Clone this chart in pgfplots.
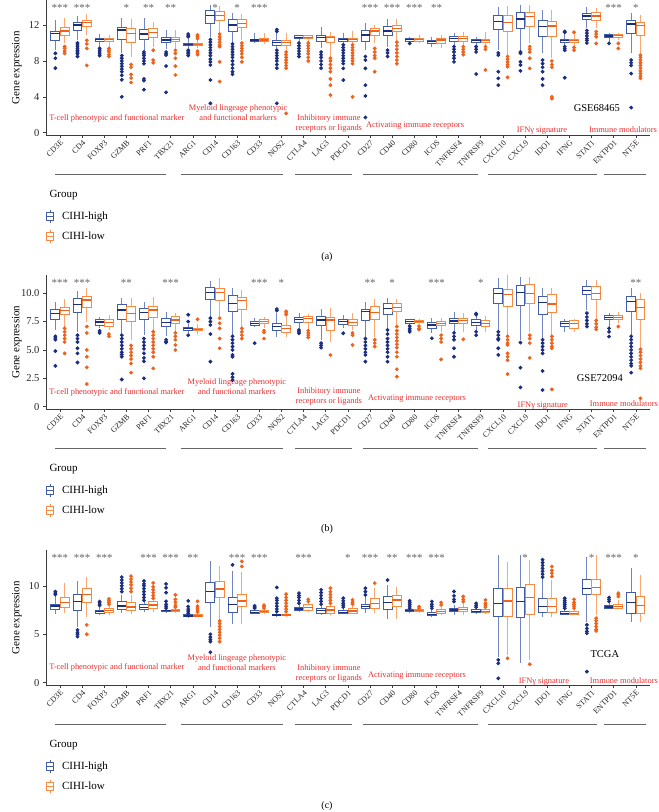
\documentclass[border=0pt]{standalone}
\usepackage{fontspec}
\setmainfont{Liberation Serif}
\usepackage{pgfplots}
\pgfplotsset{compat=1.18}
\usepgfplotslibrary{statistics}

\definecolor{hiB}{RGB}{66,92,172}
\definecolor{hiD}{RGB}{28,46,128}
\definecolor{loB}{RGB}{248,138,66}
\definecolor{loD}{RGB}{240,98,28}
\definecolor{grpc}{RGB}{232,45,45}
\definecolor{axc}{RGB}{60,60,60}

\pgfplotsset{
  hi/.style={draw=hiB, line width=0.8pt, solid, mark=*, mark size=1.5pt,
    mark options={draw=hiD, fill=hiD},
    boxplot/every box/.style={draw=hiB, fill=white, line width=0.9pt},
    boxplot/every whisker/.style={draw=hiB!75, line width=0.8pt},
    boxplot/every median/.style={draw=hiD, line width=1.3pt}},
  lo/.style={draw=loB, line width=0.8pt, solid, mark=*, mark size=1.5pt,
    mark options={draw=loD, fill=loD},
    boxplot/every box/.style={draw=loB, fill=white, line width=0.9pt},
    boxplot/every whisker/.style={draw=loB!75, line width=0.8pt},
    boxplot/every median/.style={draw=loD, line width=1.3pt}},
  panel/.style={scale only axis, width=604pt, anchor=south west, clip=false,
    xmin=0.368, xmax=27.64,
    axis x line=bottom, axis y line=left,
    axis line style={-, draw=axc, line width=0.8pt},
    tick align=outside, major tick length=3pt,
    tick style={axc, line width=0.6pt},
    xtick={1,...,27},
    xticklabels={CD3E,CD4,FOXP3,GZMB,PRF1,TBX21,ARG1,CD14,CD163,CD33,NOS2,CTLA4,LAG3,PDCD1,CD27,CD40,CD80,ICOS,TNFRSF4,TNFRSF9,CXCL10,CXCL9,IDO1,IFNG,STAT1,ENTPD1,NT5E},
    xticklabel style={rotate=45, anchor=north east, inner sep=1pt, font=\fontsize{8}{9}\selectfont, text=black!85},
    yticklabel style={font=\fontsize{10.5}{12}\selectfont, text=black!85},
    ylabel={Gene expression},
    ylabel style={at={(axis description cs:-0.048,0.5)}, anchor=center, font=\fontsize{11}{13}\selectfont},
    boxplot/draw direction=y,
    boxplot/box extend=0.4, boxplot/whisker extend=0,
    legend style={at={(0,-0.552)}, anchor=north west, draw=none, fill=none,
      inner sep=0pt, row sep=6pt, column sep=7pt,
      font=\fontsize{11}{13}\selectfont, nodes={inner sep=1pt}},
    legend cell align=left},
}
\tikzset{
  star/.style={anchor=base, font=\fontsize{11}{12}\selectfont, text=black!60},
  grpt/.style={font=\fontsize{8.4}{10}\selectfont, text=grpc, align=center},
  grpl/.style={draw=black!60, line width=1pt},
}

\newcommand{\bh}[6]{\addplot[hi, boxplot prepared={draw position=#1-0.21, lower whisker=#2, lower quartile=#3, median=#4, upper quartile=#5, upper whisker=#6}]}
\newcommand{\bl}[6]{\addplot[lo, boxplot prepared={draw position=#1+0.21, lower whisker=#2, lower quartile=#3, median=#4, upper quartile=#5, upper whisker=#6}]}

\newcommand{\legendimgs}{%
  \addlegendimage{legend image code/.code={
    \draw[hiB,line width=0.9pt] (0pt,-6.5pt) -- (0pt,6.5pt);
    \draw[hiB,line width=0.9pt,fill=white] (-3.5pt,-4pt) rectangle (3.5pt,4pt);
    \draw[hiB,line width=0.9pt] (-3.5pt,0pt) -- (3.5pt,0pt);}}
  \addlegendentry{CIHI-high}
  \addlegendimage{legend image code/.code={
    \draw[loB,line width=0.9pt] (0pt,-6.5pt) -- (0pt,6.5pt);
    \draw[loB,line width=0.9pt,fill=white] (-3.5pt,-4pt) rectangle (3.5pt,4pt);
    \draw[loB,line width=0.9pt] (-3.5pt,0pt) -- (3.5pt,0pt);}}
  \addlegendentry{CIHI-low}}

\newcommand{\grouplines}{%
  \draw[grpl] (axis cs:0.77,\yg) -- (axis cs:5.79,\yg);
  \draw[grpl] (axis cs:6.46,\yg) -- (axis cs:11.07,\yg);
  \draw[grpl] (axis cs:11.6,\yg) -- (axis cs:14.18,\yg);
  \draw[grpl] (axis cs:14.68,\yg) -- (axis cs:19.87,\yg);
  \draw[grpl] (axis cs:20.32,\yg) -- (axis cs:25.24,\yg);
  \draw[grpl] (axis cs:25.56,\yg) -- (axis cs:27.46,\yg);
  \node[anchor=west, font=\fontsize{11}{13}\selectfont] at ([yshift=-60pt]axis description cs:0,0) {Group};}

\begin{document}
\begin{tikzpicture}
\useasboundingbox (0,0) rectangle (659pt,-812pt);

% ---------------- (a) GSE68465
\def\ys{13.5}\def\yg{-4.72}
\begin{axis}[panel, at={(46pt,-135pt)}, height=135pt, ymin=-0.26, ymax=14.8,
  ytick={0,4,8,12}, yticklabels={0,4,8,12}]
\legendimgs
\bh{1}{9.2}{10.33}{11.08}{11.26}{12.6} table[row sep=\\,y index=0]{8.85\\8.3\\7.2\\};
\bl{1}{9.96}{10.9}{11.34}{11.75}{12.75} table[row sep=\\,y index=0]{9.6\\9.4\\9.1\\8.85\\};
\bh{2}{10.33}{11.38}{12.0}{12.27}{13.0} table[row sep=\\,y index=0]{10.0\\9.8\\9.6\\9.4\\9.2\\9.0\\8.8\\8.5\\};
\bl{2}{10.9}{11.8}{12.27}{12.57}{13.2} table[row sep=\\,y index=0]{10.3\\9.9\\9.4\\7.5\\};
\bh{3}{9.6}{10.15}{10.4}{10.52}{10.97} table[row sep=\\,y index=0]{9.4\\9.2\\9.0\\8.8\\8.6\\};
\bl{3}{9.6}{10.15}{10.4}{10.52}{10.9} table[row sep=\\,y index=0]{9.4\\9.2\\9.0\\8.7\\8.5\\};
\bh{4}{8.85}{10.4}{11.45}{11.75}{12.75} table[row sep=\\,y index=0]{8.6\\8.3\\8.0\\7.7\\7.4\\7.1\\6.8\\6.4\\5.9\\4.0\\};
\bl{4}{8.48}{10.04}{11.08}{11.64}{12.64} table[row sep=\\,y index=0]{7.6\\7.3\\6.5\\6.1\\5.6\\};
\bh{5}{9.2}{10.4}{11.0}{11.52}{12.75} table[row sep=\\,y index=0]{9.0\\8.8\\8.6\\8.3\\8.0\\7.7\\6.0\\5.8\\4.8\\};
\bl{5}{9.6}{10.63}{11.19}{11.64}{12.38} table[row sep=\\,y index=0]{9.2\\8.1\\7.8\\};
\bh{6}{9.3}{10.04}{10.33}{10.6}{11.45} table[row sep=\\,y index=0]{9.0\\8.8\\8.66\\7.43\\4.5\\};
\bl{6}{9.4}{10.15}{10.4}{10.63}{11.5} table[row sep=\\,y index=0]{9.2\\8.85\\8.3\\7.43\\6.43\\};
\bh{7}{9.4}{9.7}{9.85}{9.95}{10.5} table[row sep=\\,y index=0]{11.0\\10.8\\10.7\\9.2\\9.0\\8.8\\8.6\\};
\bl{7}{9.4}{9.75}{9.85}{9.95}{10.4} table[row sep=\\,y index=0]{10.9\\10.7\\10.5\\9.1\\8.9\\8.7\\};
\bh{8}{10.7}{12.19}{13.1}{13.68}{14.24} table[row sep=\\,y index=0]{10.4\\10.1\\9.8\\9.5\\9.2\\8.9\\8.6\\8.2\\7.9\\7.55\\5.87\\3.27\\};
\bl{8}{11.26}{12.5}{13.1}{13.5}{14.1} table[row sep=\\,y index=0]{11.0\\10.7\\10.4\\10.1\\9.8\\9.6\\7.9\\5.7\\};
\bh{9}{10.15}{11.26}{12.0}{12.64}{13.3} table[row sep=\\,y index=0]{9.9\\9.6\\9.3\\9.0\\8.7\\8.4\\8.0\\7.6\\7.2\\6.8\\6.5\\};
\bl{9}{10.33}{11.75}{12.19}{12.64}{13.2} table[row sep=\\,y index=0]{10.0\\9.7\\9.4\\9.1\\8.8\\8.4\\7.9\\};
\bh{10}{9.96}{10.15}{10.33}{10.45}{11.08} coordinates {};
\bl{10}{9.9}{10.2}{10.35}{10.5}{11.1} coordinates {};
\bh{11}{9.4}{9.78}{10.07}{10.33}{11.1} table[row sep=\\,y index=0]{11.5\\11.3\\9.2\\8.9\\8.6\\8.3\\8.0\\7.6\\7.2\\3.27\\};
\bl{11}{9.2}{9.74}{10.04}{10.26}{11.15} table[row sep=\\,y index=0]{9.0\\8.7\\8.4\\8.1\\7.8\\7.5\\7.2\\2.16\\};
\bh{12}{10.15}{10.48}{10.63}{10.8}{10.9} table[row sep=\\,y index=0]{10.0\\9.7\\9.4\\9.1\\8.8\\8.5\\};
\bl{12}{10.2}{10.5}{10.65}{10.8}{10.95} table[row sep=\\,y index=0]{10.0\\9.7\\9.4\\9.1\\8.8\\8.4\\8.0\\};
\bh{13}{9.4}{10.15}{10.63}{10.9}{11.8} table[row sep=\\,y index=0]{9.0\\8.7\\8.4\\8.0\\7.6\\7.2\\};
\bl{13}{8.48}{10.04}{10.63}{10.78}{11.2} table[row sep=\\,y index=0]{8.3\\8.0\\7.6\\7.2\\6.8\\6.0\\5.3\\4.2\\};
\bh{14}{9.96}{10.15}{10.4}{10.52}{11.08} table[row sep=\\,y index=0]{9.8\\9.5\\9.2\\8.9\\8.6\\8.3\\8.0\\7.7\\7.17\\5.87\\};
\bl{14}{9.96}{10.15}{10.4}{10.52}{11.38} table[row sep=\\,y index=0]{9.8\\9.5\\9.2\\8.9\\8.6\\8.3\\8.0\\7.7\\4.0\\};
\bh{15}{9.2}{10.15}{10.9}{11.38}{12.27} table[row sep=\\,y index=0]{8.5\\8.1\\7.17\\5.3\\4.1\\1.7\\};
\bl{15}{9.96}{10.8}{11.34}{11.64}{12.0} table[row sep=\\,y index=0]{9.4\\9.0\\8.6\\8.3\\6.8\\};
\bh{16}{9.6}{10.8}{11.34}{11.8}{12.64} table[row sep=\\,y index=0]{9.2\\8.9\\8.5\\};
\bl{16}{10.33}{11.26}{11.64}{12.0}{12.64} table[row sep=\\,y index=0]{10.1\\9.7\\9.3\\8.9\\8.5\\8.1\\7.7\\};
\bh{17}{10.04}{10.22}{10.4}{10.52}{10.7} table[row sep=\\,y index=0]{9.96\\};
\bl{17}{10.04}{10.22}{10.4}{10.52}{10.9} coordinates {};
\bh{18}{9.6}{9.96}{10.15}{10.33}{10.7} coordinates {};
\bl{18}{9.4}{9.96}{10.33}{10.52}{10.9} coordinates {};
\bh{19}{9.78}{10.22}{10.52}{10.7}{11.15} table[row sep=\\,y index=0]{9.6\\9.3\\9.0\\8.6\\8.3\\7.9\\};
\bl{19}{9.78}{10.22}{10.52}{10.7}{11.26} table[row sep=\\,y index=0]{9.6\\9.3\\9.0\\8.7\\};
\bh{20}{9.78}{10.07}{10.26}{10.4}{10.7} table[row sep=\\,y index=0]{9.6\\9.3\\9.0\\6.54\\};
\bl{20}{9.78}{10.07}{10.26}{10.45}{11.26} table[row sep=\\,y index=0]{9.6\\9.3\\7.0\\};
\bh{21}{9.2}{11.52}{12.38}{13.12}{14.05} table[row sep=\\,y index=0]{8.9\\8.66\\6.8\\6.06\\5.3\\};
\bl{21}{8.66}{11.26}{12.27}{13.12}{14.13} table[row sep=\\,y index=0]{8.5\\8.2\\7.9\\7.6\\7.36\\6.17\\};
\bh{22}{9.2}{11.64}{12.68}{13.42}{14.24} table[row sep=\\,y index=0]{9.0\\8.85\\7.9\\7.55\\6.9\\};
\bl{22}{9.96}{11.8}{12.94}{13.38}{14.24} table[row sep=\\,y index=0]{9.6\\9.3\\9.0\\8.3\\7.17\\};
\bh{23}{8.85}{10.78}{11.82}{12.5}{13.68} table[row sep=\\,y index=0]{8.1\\7.7\\7.3\\6.8\\6.0\\5.3\\};
\bl{23}{8.3}{10.78}{11.9}{12.38}{13.68} table[row sep=\\,y index=0]{8.0\\7.6\\7.3\\4.0\\3.8\\};
\bh{24}{9.78}{10.04}{10.26}{10.4}{11.08} table[row sep=\\,y index=0]{11.3\\11.2\\9.6\\9.4\\9.2\\6.13\\};
\bl{24}{9.7}{10.04}{10.26}{10.4}{11.08} table[row sep=\\,y index=0]{11.2\\9.5\\9.2\\};
\bh{25}{11.64}{12.64}{13.0}{13.31}{14.05} table[row sep=\\,y index=0]{11.4\\11.1\\10.8\\10.5\\10.3\\10.0\\};
\bl{25}{11.64}{12.57}{13.0}{13.38}{13.87} table[row sep=\\,y index=0]{11.26\\11.0\\10.7\\9.96\\};
\bh{26}{10.15}{10.6}{10.78}{10.97}{11.08} table[row sep=\\,y index=0]{9.96\\};
\bl{26}{10.33}{10.6}{10.85}{11.0}{11.15} table[row sep=\\,y index=0]{9.96\\9.4\\};
\bh{27}{8.85}{11.08}{12.12}{12.57}{13.3} table[row sep=\\,y index=0]{8.1\\7.8\\7.5\\6.6\\2.8\\};
\bl{27}{8.85}{10.9}{11.93}{12.3}{13.12} table[row sep=\\,y index=0]{8.66\\8.4\\8.1\\7.8\\7.5\\7.2\\6.9\\6.6\\6.3\\6.06\\};
\node[star] at (axis cs:1,\ys) {***};
\node[star] at (axis cs:2,\ys) {***};
\node[star] at (axis cs:4,\ys) {*};
\node[star] at (axis cs:5,\ys) {**};
\node[star] at (axis cs:6,\ys) {**};
\node[star] at (axis cs:8,\ys) {*};
\node[star] at (axis cs:9,\ys) {*};
\node[star] at (axis cs:10,\ys) {***};
\node[star] at (axis cs:15,\ys) {***};
\node[star] at (axis cs:16,\ys) {***};
\node[star] at (axis cs:17,\ys) {***};
\node[star] at (axis cs:18,\ys) {**};
\node[star] at (axis cs:26,\ys) {***};
\node[star] at (axis cs:27,\ys) {*};
\node[grpt] at (axis cs:3.57,1.63) {T-cell phenotypic and functional marker};
\node[grpt] at (axis cs:9.04,2.2) {Myeloid lingeage phenotypic\\and functional markers};
\node[grpt] at (axis cs:13.14,1.08) {Inhibitory immune\\receptors or ligands};
\node[grpt] at (axis cs:17.03,0.75) {Activating immune receptors};
\node[grpt] at (axis cs:22.76,0.19) {IFNγ signature};
\node[grpt] at (axis cs:26.42,0.3) {Immune modulators};
\node[font=\fontsize{10.5}{12}\selectfont] at (axis cs:25.24,2.75) {GSE68465};
\grouplines
\end{axis}

% ---------------- (b) GSE72094
\def\ys{10.63}\def\yg{-3.64}
\begin{axis}[panel, at={(46pt,-409pt)}, height=134pt, ymin=-0.2, ymax=11.6,
  ytick={0,2.5,5,7.5,10}, yticklabels={0,2.5,5.0,7.5,10.0}]
\legendimgs
\bh{1}{6.76}{7.65}{8.24}{8.53}{9.18} table[row sep=\\,y index=0]{6.2\\6.05\\5.9\\4.9\\3.6\\};
\bl{1}{7.06}{8.09}{8.47}{8.76}{9.47} table[row sep=\\,y index=0]{6.9\\6.6\\6.3\\6.0\\5.7\\4.7\\};
\bh{2}{6.6}{8.29}{9.03}{9.56}{10.15} table[row sep=\\,y index=0]{6.3\\6.0\\5.7\\5.15\\4.7\\3.9\\};
\bl{2}{7.5}{8.76}{9.41}{9.7}{10.44} table[row sep=\\,y index=0]{7.06\\6.5\\5.0\\4.4\\3.47\\2.0\\};
\bh{3}{6.9}{7.2}{7.47}{7.65}{7.94} table[row sep=\\,y index=0]{6.68\\6.5\\};
\bl{3}{6.8}{7.06}{7.41}{7.65}{8.09} table[row sep=\\,y index=0]{6.4\\6.2\\};
\bh{4}{6.47}{7.7}{8.53}{8.97}{9.56} table[row sep=\\,y index=0]{6.3\\6.0\\5.7\\5.4\\5.1\\4.8\\4.6\\4.4\\2.4\\};
\bl{4}{5.88}{7.5}{8.18}{8.82}{9.56} table[row sep=\\,y index=0]{5.4\\5.1\\4.8\\4.5\\4.2\\3.8\\3.0\\};
\bh{5}{6.3}{7.7}{8.32}{8.68}{9.26} table[row sep=\\,y index=0]{6.0\\5.7\\5.4\\5.1\\4.7\\4.3\\4.0\\2.5\\};
\bl{5}{6.76}{7.88}{8.53}{8.82}{9.65} table[row sep=\\,y index=0]{6.6\\6.3\\6.0\\5.7\\5.4\\5.1\\4.8\\4.4\\3.38\\};
\bh{6}{6.23}{7.06}{7.44}{7.79}{8.38} table[row sep=\\,y index=0]{5.9\\5.75\\5.65\\};
\bl{6}{6.6}{7.3}{7.65}{7.94}{8.29} table[row sep=\\,y index=0]{6.5\\6.2\\5.9\\5.44\\5.0\\};
\bh{7}{6.47}{6.76}{6.9}{7.0}{7.3} table[row sep=\\,y index=0]{8.1\\7.5\\6.3\\};
\bl{7}{6.4}{6.7}{6.82}{6.9}{7.3} table[row sep=\\,y index=0]{7.7\\};
\bh{8}{7.94}{9.47}{10.06}{10.53}{11.03} table[row sep=\\,y index=0]{7.8\\7.5\\7.2\\6.4\\3.97\\};
\bl{8}{7.94}{9.35}{10.06}{10.44}{11.32} table[row sep=\\,y index=0]{7.8\\7.35\\6.9\\6.0\\5.15\\};
\bh{9}{6.3}{8.38}{9.12}{9.76}{10.44} table[row sep=\\,y index=0]{6.2\\5.9\\5.6\\5.3\\5.0\\4.56\\4.4\\2.9\\2.6\\2.35\\};
\bl{9}{7.06}{8.59}{9.35}{9.65}{10.3} table[row sep=\\,y index=0]{6.9\\6.6\\6.3\\6.0\\};
\bh{10}{7.06}{7.2}{7.35}{7.5}{7.79} table[row sep=\\,y index=0]{5.6\\};
\bl{10}{6.9}{7.3}{7.5}{7.65}{7.94} table[row sep=\\,y index=0]{6.7\\6.55\\6.0\\};
\bh{11}{6.18}{6.7}{7.06}{7.35}{8.24} table[row sep=\\,y index=0]{8.6\\8.47\\};
\bl{11}{6.18}{6.53}{6.9}{7.2}{7.9} table[row sep=\\,y index=0]{8.4\\8.25\\8.1\\};
\bh{12}{6.9}{7.44}{7.7}{7.88}{8.24} table[row sep=\\,y index=0]{6.76\\6.6\\6.47\\};
\bl{12}{6.76}{7.44}{7.74}{7.94}{8.2} table[row sep=\\,y index=0]{6.7\\6.5\\6.3\\6.1\\};
\bh{13}{5.9}{7.2}{7.65}{7.94}{8.59} table[row sep=\\,y index=0]{5.6\\5.4\\5.2\\};
\bl{13}{5.74}{6.76}{7.65}{7.85}{8.68} table[row sep=\\,y index=0]{4.56\\};
\bh{14}{6.9}{7.26}{7.5}{7.65}{8.09} table[row sep=\\,y index=0]{6.47\\};
\bl{14}{6.76}{7.2}{7.44}{7.65}{8.24} table[row sep=\\,y index=0]{6.5\\6.3\\5.44\\};
\bh{15}{6.18}{7.56}{8.38}{8.53}{9.26} table[row sep=\\,y index=0]{6.0\\5.7\\5.4\\5.1\\4.8\\4.56\\3.97\\};
\bl{15}{6.18}{7.7}{8.32}{8.82}{9.47} table[row sep=\\,y index=0]{5.9\\5.6\\5.3\\};
\bh{16}{6.9}{8.15}{8.62}{9.06}{9.56} table[row sep=\\,y index=0]{6.76\\6.4\\6.0\\5.7\\5.4\\5.1\\4.8\\4.4\\3.97\\};
\bl{16}{7.2}{8.38}{8.76}{9.06}{9.47} table[row sep=\\,y index=0]{7.06\\6.7\\6.4\\6.1\\5.8\\5.5\\5.2\\4.8\\4.4\\3.3\\2.65\\};
\bh{17}{7.2}{7.35}{7.5}{7.65}{7.7} table[row sep=\\,y index=0]{7.1\\6.9\\6.75\\6.6\\};
\bl{17}{7.25}{7.4}{7.5}{7.6}{7.7} table[row sep=\\,y index=0]{7.1\\6.9\\6.8\\};
\bh{18}{6.47}{6.9}{7.2}{7.41}{7.79} table[row sep=\\,y index=0]{6.03\\};
\bl{18}{6.6}{7.15}{7.35}{7.5}{7.79} table[row sep=\\,y index=0]{6.3\\6.0\\5.7\\4.17\\};
\bh{19}{6.6}{7.35}{7.56}{7.74}{8.38} table[row sep=\\,y index=0]{6.5\\6.2\\5.9\\5.15\\4.4\\};
\bl{19}{6.6}{7.3}{7.59}{7.79}{8.29} table[row sep=\\,y index=0]{5.94\\};
\bh{20}{6.76}{7.2}{7.41}{7.65}{8.0} table[row sep=\\,y index=0]{8.2\\8.1\\6.6\\6.3\\};
\bl{20}{6.6}{7.06}{7.35}{7.56}{8.0} coordinates {};
\bh{21}{6.76}{9.06}{10.0}{10.44}{11.32} table[row sep=\\,y index=0]{6.6\\6.3\\6.0\\5.9\\5.15\\4.56\\};
\bl{21}{6.3}{8.82}{9.91}{10.35}{11.62} table[row sep=\\,y index=0]{6.2\\5.9\\5.6\\5.44\\4.7\\4.4\\4.1\\2.88\\};
\bh{22}{5.88}{8.88}{10.09}{10.65}{11.41} table[row sep=\\,y index=0]{5.65\\3.44\\1.7\\};
\bl{22}{6.6}{9.12}{10.0}{10.74}{11.41} table[row sep=\\,y index=0]{6.3\\6.0\\5.6\\4.3\\};
\bh{23}{6.03}{8.15}{9.18}{9.7}{10.44} table[row sep=\\,y index=0]{5.9\\5.6\\5.3\\5.0\\4.7\\3.15\\1.47\\};
\bl{23}{6.3}{8.32}{9.06}{9.85}{10.44} table[row sep=\\,y index=0]{6.2\\5.9\\5.6\\5.3\\5.15\\1.53\\};
\bh{24}{6.6}{7.06}{7.3}{7.5}{7.7} coordinates {};
\bl{24}{6.6}{6.9}{7.3}{7.56}{7.7} coordinates {};
\bh{25}{8.53}{9.85}{10.24}{10.59}{11.12} table[row sep=\\,y index=0]{8.24\\7.9\\7.6\\7.3\\7.06\\};
\bl{25}{7.65}{9.41}{10.0}{10.59}{11.12} table[row sep=\\,y index=0]{7.6\\7.3\\7.0\\6.82\\};
\bh{26}{7.06}{7.65}{7.85}{8.0}{8.24} table[row sep=\\,y index=0]{6.9\\6.6\\6.18\\};
\bl{26}{7.35}{7.7}{7.88}{8.0}{8.3} table[row sep=\\,y index=0]{7.06\\};
\bh{27}{6.3}{8.38}{9.26}{9.7}{10.44} table[row sep=\\,y index=0]{6.2\\5.9\\5.6\\5.3\\5.0\\4.7\\4.4\\4.1\\3.8\\3.6\\3.0\\};
\bl{27}{5.3}{7.7}{8.76}{9.47}{10.0} table[row sep=\\,y index=0]{5.06\\4.8\\4.5\\4.2\\3.9\\3.6\\3.38\\0.74\\};
\node[star] at (axis cs:1,\ys) {***};
\node[star] at (axis cs:2,\ys) {***};
\node[star] at (axis cs:4,\ys) {**};
\node[star] at (axis cs:6,\ys) {***};
\node[star] at (axis cs:10,\ys) {***};
\node[star] at (axis cs:11,\ys) {*};
\node[star] at (axis cs:15,\ys) {**};
\node[star] at (axis cs:16,\ys) {*};
\node[star] at (axis cs:18,\ys) {***};
\node[star] at (axis cs:20,\ys) {*};
\node[star] at (axis cs:27,\ys) {**};
\node[grpt] at (axis cs:3.57,1.3) {T-cell phenotypic and functional marker};
\node[grpt] at (axis cs:8.99,1.74) {Myeloid lingeage phenotypic\\and functional markers};
\node[grpt] at (axis cs:13.14,0.86) {Inhibitory immune\\receptors or ligands};
\node[grpt] at (axis cs:17.12,0.68) {Activating immune receptors};
\node[grpt] at (axis cs:22.8,0.06) {IFNγ signature};
\node[grpt] at (axis cs:26.46,0.24) {Immune modulators};
\node[font=\fontsize{10.5}{12}\selectfont] at (axis cs:25.38,2.53) {GSE72094};
\grouplines
\end{axis}

% ---------------- (c) TCGA
\def\ys{12.53}\def\yg{-4.27}
\begin{axis}[panel, at={(46pt,-685pt)}, height=135pt, ymin=-0.24, ymax=13.7,
  ytick={0,5,10}, yticklabels={0,5,10}]
\legendimgs
\bh{1}{7.1}{7.6}{7.93}{8.1}{8.9} table[row sep=\\,y index=0]{9.1\\9.25\\9.4\\};
\bl{1}{7.17}{7.76}{8.3}{8.8}{10.28} coordinates {};
\bh{2}{5.8}{7.5}{8.38}{9.14}{10.5} table[row sep=\\,y index=0]{5.45\\5.2\\5.0\\4.76\\};
\bl{2}{6.83}{8.3}{9.07}{9.7}{10.9} table[row sep=\\,y index=0]{5.97\\5.0\\};
\bh{3}{7.0}{7.17}{7.34}{7.5}{7.86} table[row sep=\\,y index=0]{7.97\\8.1\\8.25\\8.38\\};
\bl{3}{7.0}{7.24}{7.45}{7.69}{7.97} table[row sep=\\,y index=0]{8.1\\8.3\\8.45\\8.65\\};
\bh{4}{7.17}{7.52}{7.93}{8.38}{9.07} table[row sep=\\,y index=0]{9.4\\9.7\\10.0\\10.3\\10.6\\10.9\\};
\bl{4}{7.1}{7.45}{7.8}{8.3}{9.1} table[row sep=\\,y index=0]{9.4\\9.76\\10.1\\10.4\\10.7\\11.0\\};
\bh{5}{7.3}{7.6}{7.75}{8.1}{8.3} table[row sep=\\,y index=0]{8.5\\8.8\\9.1\\9.4\\9.7\\10.0\\10.2\\10.5\\};
\bl{5}{7.34}{7.69}{8.03}{8.38}{8.55} table[row sep=\\,y index=0]{8.72\\9.0\\9.3\\9.6\\9.9\\10.3\\};
\bh{6}{7.2}{7.35}{7.42}{7.5}{7.6} table[row sep=\\,y index=0]{7.7\\7.9\\8.1\\8.4\\9.3\\9.8\\10.2\\};
\bl{6}{7.2}{7.35}{7.45}{7.55}{7.65} table[row sep=\\,y index=0]{7.8\\8.0\\8.3\\8.6\\9.07\\};
\bh{7}{6.8}{6.83}{6.9}{7.0}{7.05} table[row sep=\\,y index=0]{7.17\\7.4\\7.6\\7.86\\8.45\\};
\bl{7}{6.8}{6.85}{6.9}{7.0}{7.1} table[row sep=\\,y index=0]{7.3\\7.5\\7.7\\7.9\\8.4\\};
\bh{8}{5.79}{8.25}{9.41}{10.3}{12.52} table[row sep=\\,y index=0]{5.0\\4.7\\4.45\\4.24\\3.14\\};
\bl{8}{6.48}{8.85}{9.66}{10.5}{12.1} table[row sep=\\,y index=0]{6.38\\6.1\\5.8\\5.5\\5.2\\4.9\\4.6\\4.24\\};
\bh{9}{6.03}{7.28}{8.1}{8.79}{11.5} table[row sep=\\,y index=0]{12.17\\};
\bl{9}{6.03}{7.86}{8.45}{9.14}{11.4} table[row sep=\\,y index=0]{12.0\\12.52\\};
\bh{10}{7.17}{7.2}{7.28}{7.41}{7.5} table[row sep=\\,y index=0]{7.69\\7.8\\7.93\\};
\bl{10}{7.17}{7.22}{7.34}{7.45}{7.6} table[row sep=\\,y index=0]{7.7\\7.85\\8.0\\};
\bh{11}{6.9}{6.93}{7.0}{7.07}{7.2} table[row sep=\\,y index=0]{7.34\\7.6\\7.9\\8.2\\8.5\\8.72\\9.83\\};
\bl{11}{6.9}{6.93}{7.0}{7.07}{7.2} table[row sep=\\,y index=0]{7.34\\7.6\\7.9\\8.2\\8.5\\8.8\\9.14\\};
\bh{12}{7.3}{7.45}{7.62}{7.79}{8.0} table[row sep=\\,y index=0]{8.2\\8.5\\8.8\\9.0\\9.24\\};
\bl{12}{7.3}{7.45}{7.76}{8.03}{8.2} table[row sep=\\,y index=0]{8.4\\8.6\\};
\bh{13}{7.0}{7.17}{7.45}{7.69}{7.9} table[row sep=\\,y index=0]{8.1\\8.4\\8.7\\9.0\\9.3\\9.6\\};
\bl{13}{7.0}{7.17}{7.52}{7.86}{8.0} table[row sep=\\,y index=0]{8.2\\8.5\\8.8\\9.1\\9.4\\9.76\\};
\bh{14}{7.1}{7.17}{7.28}{7.45}{7.6} table[row sep=\\,y index=0]{7.8\\8.0\\8.2\\8.45\\8.72\\};
\bl{14}{7.1}{7.17}{7.41}{7.62}{7.9} table[row sep=\\,y index=0]{8.1\\8.3\\8.55\\};
\bh{15}{7.17}{7.69}{7.9}{8.1}{8.9} table[row sep=\\,y index=0]{9.07\\9.4\\9.76\\};
\bl{15}{7.17}{7.69}{8.2}{8.72}{9.76} table[row sep=\\,y index=0]{10.28\\};
\bh{16}{6.55}{7.59}{8.28}{8.9}{10.1} table[row sep=\\,y index=0]{10.6\\};
\bl{16}{6.55}{7.86}{8.55}{8.97}{9.93} coordinates {};
\bh{17}{7.3}{7.34}{7.45}{7.52}{7.6} table[row sep=\\,y index=0]{7.69\\7.9\\8.1\\8.3\\8.45\\};
\bl{17}{7.3}{7.34}{7.45}{7.52}{7.6} table[row sep=\\,y index=0]{7.7\\7.86\\};
\bh{18}{6.85}{6.9}{7.07}{7.24}{7.5} table[row sep=\\,y index=0]{7.69\\7.9\\8.1\\8.38\\};
\bl{18}{6.95}{7.1}{7.34}{7.52}{7.8} table[row sep=\\,y index=0]{8.03\\8.28\\};
\bh{19}{7.0}{7.34}{7.52}{7.69}{8.03} table[row sep=\\,y index=0]{8.38\\8.6\\8.97\\9.41\\};
\bl{19}{7.0}{7.34}{7.59}{7.79}{8.2} table[row sep=\\,y index=0]{8.38\\8.6\\8.9\\};
\bh{20}{7.1}{7.24}{7.38}{7.52}{7.6} table[row sep=\\,y index=0]{7.8\\8.0\\8.2\\};
\bl{20}{7.1}{7.24}{7.38}{7.52}{7.6} table[row sep=\\,y index=0]{7.8\\8.0\\8.2\\8.55\\};
\bh{21}{2.69}{6.83}{8.2}{9.76}{13.2} table[row sep=\\,y index=0]{2.35\\2.0\\0.45\\};
\bl{21}{2.86}{6.83}{8.45}{9.76}{12.5} table[row sep=\\,y index=0]{2.52\\};
\bh{22}{2.0}{6.72}{8.38}{9.86}{13.2} coordinates {};
\bl{22}{2.35}{7.0}{8.79}{10.17}{12.7} table[row sep=\\,y index=0]{1.9\\};
\bh{23}{6.83}{7.28}{7.86}{8.72}{10.7} table[row sep=\\,y index=0]{10.9\\11.2\\11.5\\11.8\\12.1\\12.4\\12.7\\};
\bl{23}{6.83}{7.28}{7.86}{8.66}{10.6} table[row sep=\\,y index=0]{10.97\\11.3\\11.6\\12.0\\};
\bh{24}{7.0}{7.07}{7.17}{7.34}{7.6} table[row sep=\\,y index=0]{7.69\\7.9\\8.1\\8.3\\8.5\\8.72\\};
\bl{24}{7.0}{7.07}{7.17}{7.34}{7.6} table[row sep=\\,y index=0]{7.7\\7.9\\8.1\\8.3\\8.6\\};
\bh{25}{6.31}{9.07}{9.69}{10.62}{13.0} table[row sep=\\,y index=0]{5.97\\5.6\\5.3\\5.1\\1.14\\};
\bl{25}{7.0}{9.07}{9.86}{10.62}{13.2} table[row sep=\\,y index=0]{6.66\\6.4\\6.1\\5.8\\5.5\\5.35\\};
\bh{26}{7.6}{7.69}{7.83}{7.93}{8.2} table[row sep=\\,y index=0]{8.4\\8.6\\8.79\\};
\bl{26}{7.6}{7.69}{7.9}{8.03}{8.5} table[row sep=\\,y index=0]{8.9\\9.1\\9.24\\};
\bh{27}{6.31}{7.17}{8.28}{9.34}{11.83} coordinates {};
\bl{27}{6.24}{7.17}{7.97}{8.9}{11.14} coordinates {};
\node[star] at (axis cs:1,\ys) {***};
\node[star] at (axis cs:2,\ys) {***};
\node[star] at (axis cs:3,\ys) {***};
\node[star] at (axis cs:5,\ys) {***};
\node[star] at (axis cs:6,\ys) {***};
\node[star] at (axis cs:7,\ys) {**};
\node[star] at (axis cs:9,\ys) {***};
\node[star] at (axis cs:10,\ys) {***};
\node[star] at (axis cs:12,\ys) {***};
\node[star] at (axis cs:14,\ys) {*};
\node[star] at (axis cs:15,\ys) {***};
\node[star] at (axis cs:16,\ys) {**};
\node[star] at (axis cs:17,\ys) {***};
\node[star] at (axis cs:18,\ys) {***};
\node[star] at (axis cs:22,\ys) {*};
\node[star] at (axis cs:25,\ys) {*};
\node[star] at (axis cs:26,\ys) {***};
\node[star] at (axis cs:27,\ys) {*};
\node[grpt] at (axis cs:3.57,1.62) {T-cell phenotypic and functional marker};
\node[grpt] at (axis cs:8.99,2.07) {Myeloid lingeage phenotypic\\and functional markers};
\node[grpt] at (axis cs:13.14,1.0) {Inhibitory immune\\receptors or ligands};
\node[grpt] at (axis cs:17.12,0.69) {Activating immune receptors};
\node[grpt] at (axis cs:22.85,0.07) {IFNγ signature};
\node[grpt] at (axis cs:26.46,0.18) {Immune modulators};
\node[font=\fontsize{10.5}{12}\selectfont] at (axis cs:25.6,2.97) {TCGA};
\grouplines
\end{axis}

\node[font=\fontsize{10}{12}\selectfont] at (327pt,-257pt) {(a)};
\node[font=\fontsize{10}{12}\selectfont] at (327pt,-529pt) {(b)};
\node[font=\fontsize{10}{12}\selectfont] at (327pt,-806pt) {(c)};
\end{tikzpicture}
\end{document}
